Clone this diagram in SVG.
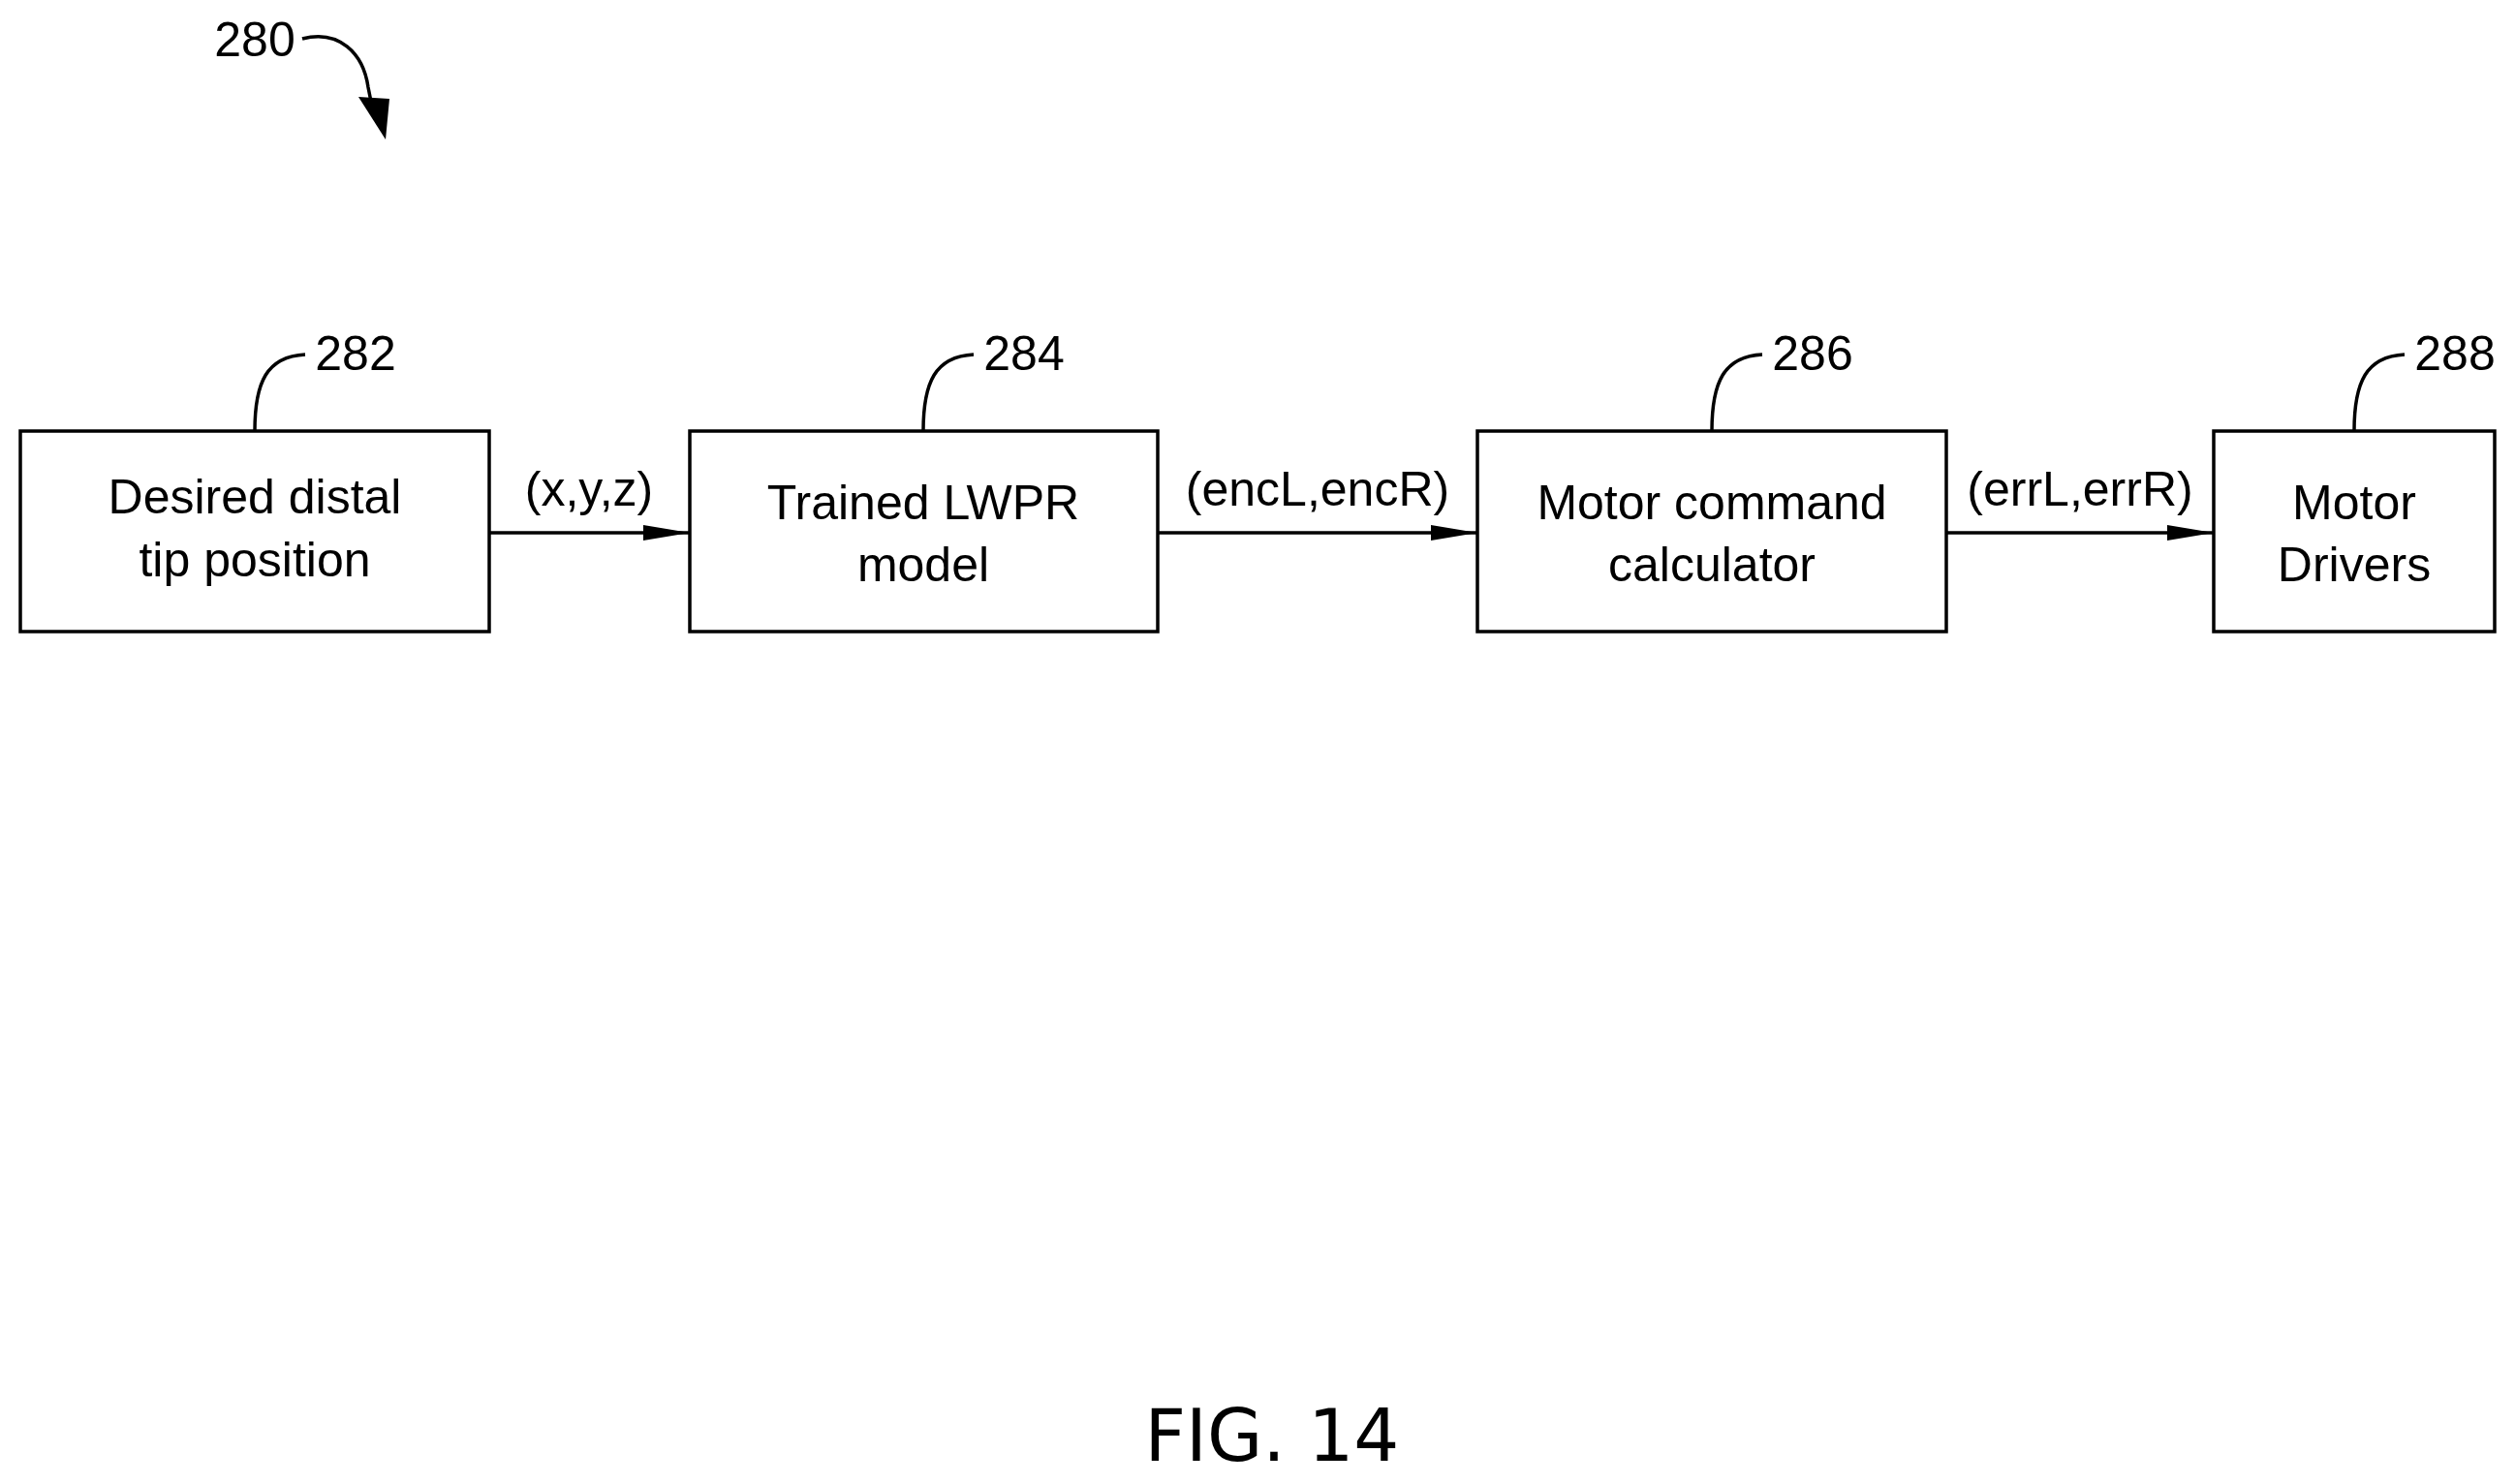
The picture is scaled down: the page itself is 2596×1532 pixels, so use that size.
<svg xmlns="http://www.w3.org/2000/svg" width="2596" height="1532" viewBox="0 0 2596 1532">
<style>
.b{fill:#fff;stroke:#000;stroke-width:3.5}
.t{font-family:"Liberation Sans",Arial,sans-serif;font-size:50px;text-anchor:middle;fill:#000}
.n{font-family:"Liberation Sans",Arial,sans-serif;font-size:50px;text-anchor:middle;fill:#000}
.c{fill:none;stroke:#000;stroke-width:3.5}
</style>
<defs><marker id="a" markerWidth="12" markerHeight="8" refX="12" refY="4" orient="auto" markerUnits="userSpaceOnUse" viewBox="0 0 12 8"><path d="M0,0L12,4L0,8z"/></marker>
<marker id="ah" markerWidth="48" markerHeight="20" refX="48" refY="10" orient="auto" markerUnits="userSpaceOnUse"><path d="M0,2L48,10L0,18z"/></marker></defs>
<rect width="2596" height="1532" fill="#fff"/>
<g id="ref280">
<text class="n" x="263" y="58">280</text>
<path class="c" d="M312,40 C350,30 375,55 380,90 L385,115" />
<path d="M370,100 L402,102 L398,144 Z"/>
</g>
<g id="n282"><rect class="b" x="21" y="445" width="484" height="207"/>
<text class="t" x="263" y="530">Desired distal</text><text class="t" x="263" y="595">tip position</text>
<path class="c" d="M263,445 C263,395 275,368 315,366"/><text class="n" x="367" y="382">282</text></g>
<g id="n284"><rect class="b" x="712" y="445" width="483" height="207"/>
<text class="t" x="953" y="536">Trained LWPR</text><text class="t" x="953" y="600">model</text>
<path class="c" d="M953,445 C953,395 965,368 1005,366"/><text class="n" x="1057" y="382">284</text></g>
<g id="n286"><rect class="b" x="1525" y="445" width="484" height="207"/>
<text class="t" x="1767" y="536">Motor command</text><text class="t" x="1767" y="600">calculator</text>
<path class="c" d="M1767,445 C1767,395 1779,368 1819,366"/><text class="n" x="1871" y="382">286</text></g>
<g id="n288"><rect class="b" x="2285" y="445" width="290" height="207"/>
<text class="t" x="2430" y="536">Motor</text><text class="t" x="2430" y="600">Drivers</text>
<path class="c" d="M2430,445 C2430,395 2442,368 2482,366"/><text class="n" x="2534" y="382">288</text></g>
<g id="connectors">
<path class="c" d="M505,550 H712" marker-end="url(#ah)"/>
<path class="c" d="M1195,550 H1525" marker-end="url(#ah)"/>
<path class="c" d="M2009,550 H2285" marker-end="url(#ah)"/>
<text class="t" x="608" y="522">(x,y,z)</text>
<text class="t" x="1360" y="522">(encL,encR)</text>
<text class="t" x="2147" y="522">(errL,errR)</text>
</g>
<text x="1313" y="1508" font-family="'DejaVu Sans',sans-serif" font-size="74" text-anchor="middle">FIG. 14</text>
</svg>
